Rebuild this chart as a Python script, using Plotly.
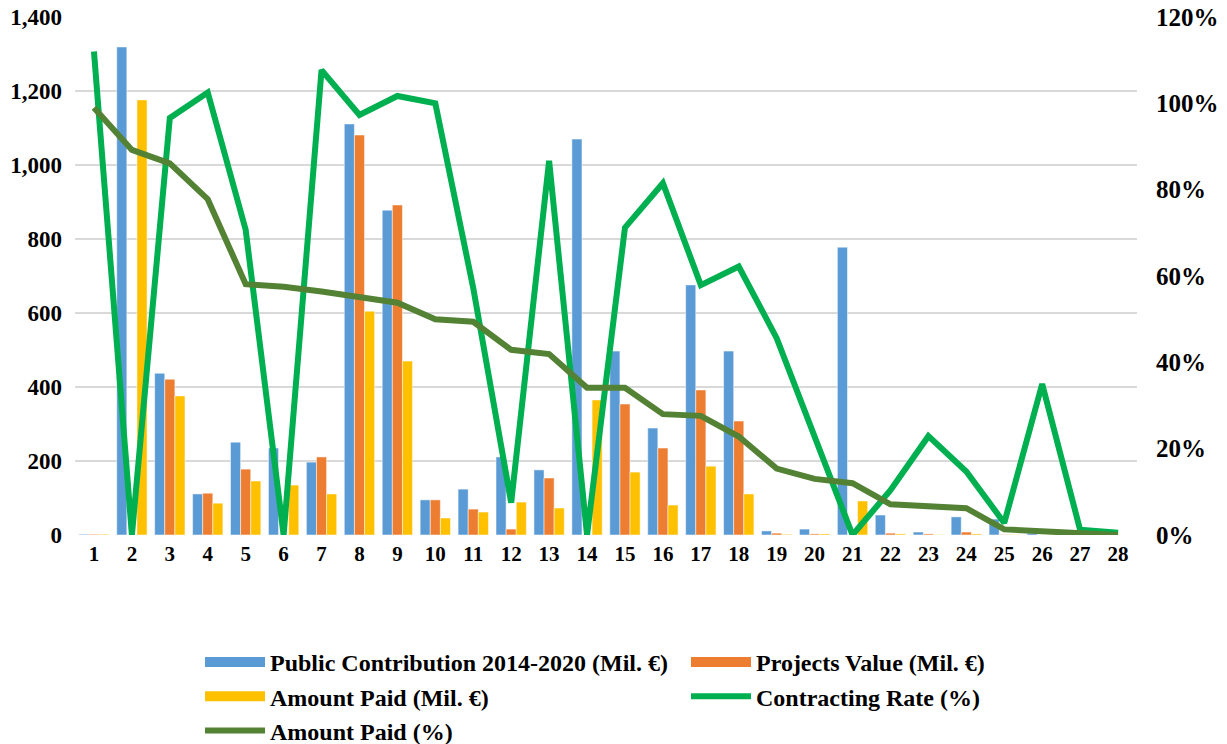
import plotly.graph_objects as go

# categories 1..28
categories = [str(i) for i in range(1, 29)]

public_contribution = [2, 1319, 437, 111, 251, 235, 197, 1111, 878, 95,
                       124, 211, 176, 1070, 497, 289, 676, 497, 11, 16,
                       778, 54, 8, 49, 43, 5, 1, 12]
projects_value = [2, 0, 421, 113, 178, 0, 211, 1081, 892, 95,
                  70, 16, 154, 0, 354, 235, 392, 308, 5, 3,
                  0, 5, 3, 8, 1, 0, 0, 0]
amount_paid = [2, 1176, 376, 86, 146, 135, 111, 605, 470, 46,
               62, 89, 73, 365, 170, 81, 186, 111, 2, 3,
               92, 3, 1, 3, 1, 1, 0, 0]
contracting_rate = [1.12, 0.0, 0.966, 1.025, 0.707, 0.0, 1.077, 0.973, 1.017, 1.0,
                    0.572, 0.075, 0.867, 0.0, 0.712, 0.815, 0.579, 0.622, 0.456, 0.228,
                    0.0, 0.104, 0.229, 0.147, 0.028, 0.35, 0.012, 0.005]
amount_paid_pct = [0.99, 0.892, 0.861, 0.778, 0.581, 0.575, 0.564, 0.552, 0.538, 0.50,
                   0.494, 0.429, 0.419, 0.341, 0.341, 0.28, 0.276, 0.228, 0.154, 0.13,
                   0.12, 0.071, 0.068, 0.062, 0.013, 0.009, 0.007, 0.0]

FONT = "Liberation Serif"
BLUE, ORANGE, YELLOW = "#5b9bd5", "#ed7d31", "#ffc000"
GREEN, DARK_GREEN = "#00b050", "#548235"

fig = go.Figure()

bars = [
    ("Public Contribution 2014-2020 (Mil. €)", public_contribution, BLUE),
    ("Projects Value (Mil. €)", projects_value, ORANGE),
    ("Amount Paid (Mil. €)", amount_paid, YELLOW),
]
for name, vals, col in bars:
    fig.add_trace(go.Bar(x=categories, y=vals, name=name, marker_color=col,
                         showlegend=False))

fig.add_trace(go.Scatter(x=categories, y=contracting_rate, yaxis="y2",
                         name="Contracting Rate (%)", mode="lines",
                         line=dict(color=GREEN, width=6), showlegend=False))
fig.add_trace(go.Scatter(x=categories, y=amount_paid_pct, yaxis="y2",
                         name="Amount Paid (%)", mode="lines",
                         line=dict(color=DARK_GREEN, width=6), showlegend=False))

# legend entries (wide swatches like the original)
legend_items = [
    ("Public Contribution 2014-2020 (Mil. €)", BLUE, 12),
    ("Projects Value (Mil. €)", ORANGE, 12),
    ("Amount Paid (Mil. €)", YELLOW, 12),
    ("Contracting Rate (%)", GREEN, 6),
    ("Amount Paid (%)", DARK_GREEN, 6),
]
for name, col, w in legend_items:
    fig.add_trace(go.Scatter(x=[None], y=[None], name=name, mode="lines",
                             line=dict(color=col, width=w)))

fig.update_layout(
    width=1227,
    height=744,
    template="plotly_white",
    barmode="group",
    bargap=0.2,
    bargroupgap=0,
    font=dict(family=FONT, size=20, color="black", weight="bold"),
    margin=dict(l=75, r=90, t=17, b=209, autoexpand=False),
    xaxis=dict(type="category", showgrid=False, showline=False, ticks="",
               tickfont=dict(size=21), zeroline=False, ticklabelstandoff=4),
    yaxis=dict(range=[0, 1400], dtick=200, tickformat=",",
               gridcolor="#d9d9d9", gridwidth=2, zeroline=False,
               ticklabelstandoff=12, tickfont=dict(size=23),
               ticklabeloverflow="allow"),
    yaxis2=dict(range=[0, 1.2], dtick=0.2, tickformat=".0%",
                overlaying="y", side="right", showgrid=False, zeroline=False,
                ticklabelstandoff=18, tickfont=dict(size=25),
                ticklabeloverflow="allow"),
    legend=dict(orientation="h", x=0.1177, xanchor="left", y=-0.2027, yanchor="top",
                entrywidth=411, itemwidth=60, font=dict(size=24),
                traceorder="normal", tracegroupgap=0),
    showlegend=True,
)

# drop the default page margin so the figure fills the window
fig.write_html("out.html", config={"displayModeBar": False},
               post_script="document.body.style.margin='0';")
